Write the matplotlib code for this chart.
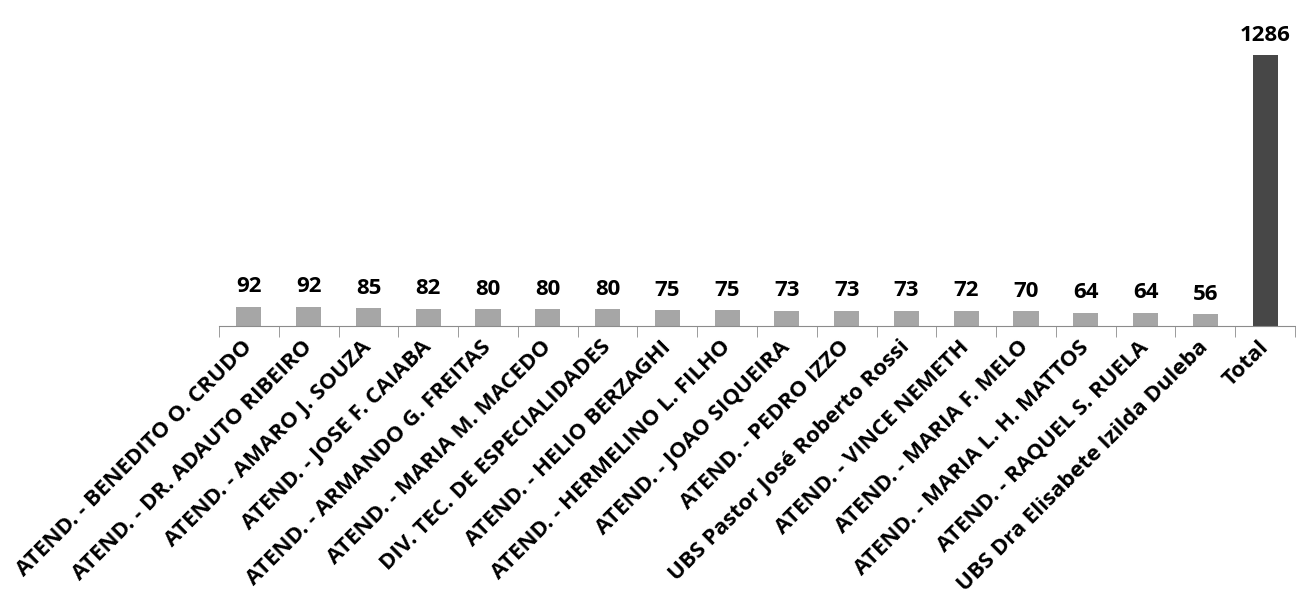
import numpy as np
import matplotlib.pyplot as plt

labels = [
    "ATEND. - BENEDITO O. CRUDO",
    "ATEND. - DR. ADAUTO RIBEIRO",
    "ATEND. - AMARO J. SOUZA",
    "ATEND. - JOSE F. CAIABA",
    "ATEND. - ARMANDO G. FREITAS",
    "ATEND. - MARIA M. MACEDO",
    "DIV. TEC. DE ESPECIALIDADES",
    "ATEND. - HELIO BERZAGHI",
    "ATEND. - HERMELINO L. FILHO",
    "ATEND. - JOAO SIQUEIRA",
    "ATEND. - PEDRO IZZO",
    "UBS Pastor José Roberto Rossi",
    "ATEND. - VINCE NEMETH",
    "ATEND. - MARIA F. MELO",
    "ATEND. - MARIA L. H. MATTOS",
    "ATEND. - RAQUEL S. RUELA",
    "UBS Dra Elisabete Izilda Duleba",
    "Total",
]
values = [92, 92, 85, 82, 80, 80, 80, 75, 75, 73, 73, 73, 72, 70, 64, 64, 56, 1286]

plt.rcParams['font.family'] = ['Open Sans', 'DejaVu Sans']

fig = plt.figure(figsize=(12.96, 6.08), dpi=100)
ax = fig.add_axes([219 / 1296, (608 - 326) / 608, (1295 - 219) / 1296, 326 / 608])

x = np.arange(len(values))
colors = ['#a6a6a6'] * (len(values) - 1) + ['#474747']
ax.bar(x, values, width=0.42, color=colors)

for xi, v in zip(x, values):
    ax.text(xi, v + 45, str(v), ha='center', va='bottom', fontsize=16, fontweight='bold')

ax.set_xlim(-0.5, len(values) - 0.5)
ax.set_ylim(0, 1547)

for s in ['top', 'right', 'left']:
    ax.spines[s].set_visible(False)
ax.spines['bottom'].set_color('#8c8c8c')
ax.set_yticks([])

ax.set_xticks(np.arange(len(values) + 1) - 0.5, minor=True)
ax.tick_params(axis='x', which='minor', length=8, color='#8c8c8c', direction='out')
ax.set_xticks(x)
ax.tick_params(axis='x', which='major', length=0, pad=13)
ax.set_xticklabels(labels, rotation=45, ha='right', va='center',
                   rotation_mode='anchor', fontsize=16, fontweight='bold')

fig.savefig('out.png', dpi=100)
